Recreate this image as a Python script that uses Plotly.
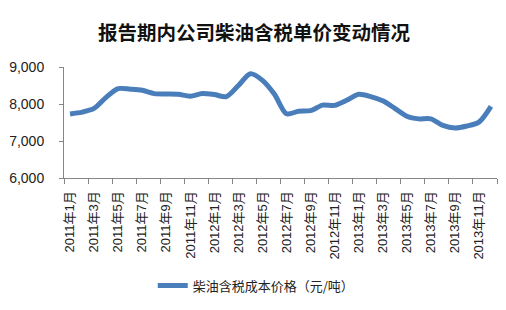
import plotly.graph_objects as go

months = [f"{y}年{m}月" for y in (2011, 2012, 2013) for m in range(1, 13)]
prices = [7730, 7780, 7880, 8180, 8415, 8400, 8370, 8280, 8270, 8263, 8210, 8285,
          8255, 8200, 8500, 8820, 8640, 8263, 7735, 7805, 7820, 7970, 7962, 8100,
          8263, 8200, 8085, 7883, 7670, 7598, 7598, 7420, 7350, 7404, 7510, 7936]
series_name = "柴油含税成本价格（元/吨）"
title_text = "报告期内公司柴油含税单价变动情况"
y_ticks = [6000, 7000, 8000, 9000]

x_idx = list(range(len(months)))
label_idx = x_idx[::2]
label_text = [months[i] for i in label_idx]

fig = go.Figure()
fig.add_trace(go.Scatter(
    x=x_idx, y=prices, mode="lines", name=series_name,
    line=dict(color="#4A7EBB", width=5, shape="spline", smoothing=0.8),
))

fig.update_layout(
    width=506, height=310,
    margin=dict(l=60, r=9, t=67, b=130),
    paper_bgcolor="white", plot_bgcolor="white",
    title=dict(text=f"<b>{title_text}</b>", x=254 / 506, xref="container", xanchor="center",
               y=1 - 33 / 310, yref="container", yanchor="middle",
               font=dict(family="Noto Sans CJK SC", size=19.5, color="#111")),
    font=dict(family="Liberation Sans, Arial, Noto Sans CJK SC", color="#222"),
    showlegend=True,
    legend=dict(orientation="h", x=0.444, xanchor="center",
                y=-0.97, yanchor="middle",
                font=dict(family="Noto Sans CJK SC", size=13, color="#222"),
                itemwidth=30, bgcolor="rgba(0,0,0,0)"),
)

fig.update_xaxes(
    range=[-0.5, len(months) - 0.5],
    tickmode="array", tickvals=label_idx, ticktext=label_text,
    tickangle=-90, ticks="", ticklabelstandoff=7,
    tickfont=dict(family="Liberation Sans, Noto Sans CJK SC", size=13, color="#222"),
    showline=True, linecolor="#868686", linewidth=1,
    showgrid=False, zeroline=False,
    minor=dict(tick0=-0.5, dtick=2, ticks="outside", ticklen=5,
               tickcolor="#868686", showgrid=False),
)
fig.update_yaxes(
    range=[6000, 9000], tickmode="array", tickvals=y_ticks,
    ticktext=[f"{v:,}" for v in y_ticks],
    ticks="outside", ticklen=4, tickcolor="#868686",
    tickfont=dict(family="Liberation Sans", size=14, color="#222"),
    showline=True, linecolor="#868686", linewidth=1,
    showgrid=False, zeroline=False, ticklabelstandoff=12,
)

fig.write_html("out.html")
